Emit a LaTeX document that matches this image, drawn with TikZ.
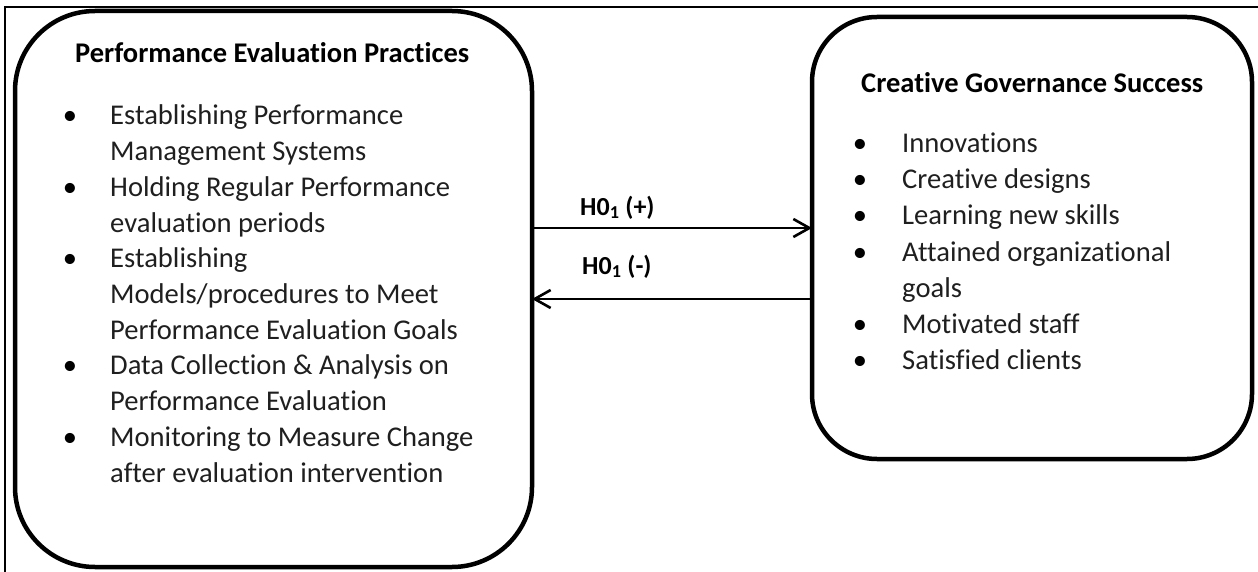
\documentclass[tikz,border=0pt]{standalone}
\usepackage{fontspec}
\setmainfont[Ligatures={NoCommon}]{Carlito}
\usetikzlibrary{arrows.meta}
\begin{document}
\begin{tikzpicture}[x=1pt,y=-1pt,
  frame/.style={line width=2.2pt, black},
  box/.style={draw=black, line width=4.5pt, inner sep=0pt, outer sep=0pt},
  title/.style={font=\fontsize{28.5}{34}\selectfont\bfseries, anchor=base west, inner sep=0pt},
  body/.style={font=\fontsize{28.6}{34}\selectfont, anchor=base west, inner sep=0pt, text=black!88},
  bul/.style={font=\fontsize{28.6}{34}\selectfont, anchor=base, inner sep=0pt},
  lab/.style={font=\fontsize{26}{32}\selectfont\bfseries, anchor=base west, inner sep=0pt},
  arr/.style={line width=2.6pt, -{Straight Barb[length=16pt, width=18pt]}}]
\useasboundingbox (0,0) rectangle (1258,572);
\draw[frame] (5,572) -- (5,7) -- (1258,7);
% boxes
\node[box, minimum width=517pt, minimum height=556pt, rounded corners=80pt] (L) at (273.5,289) {};
\node[box, minimum width=440pt, minimum height=442pt, rounded corners=65pt] (R) at (1032,238) {};
% left text
\node[title] (Lt) at (75,63) {Performance Evaluation Practices};
\node[bul] (Lb1) at (70,125) {\textbullet};
\node[body] (L1) at (110,125.0) {Establishing Performance};
\node[body] (L2) at (110,160.7) {Management Systems};
\node[bul] (Lb2) at (70,196.4) {\textbullet};
\node[body] (L3) at (110,196.4) {Holding Regular Performance};
\node[body] (L4) at (110,232.1) {evaluation periods};
\node[bul] (Lb3) at (70,267.8) {\textbullet};
\node[body] (L5) at (110,267.8) {Establishing};
\node[body] (L6) at (110,303.5) {Models/procedures to Meet};
\node[body] (L7) at (110,339.2) {Performance Evaluation Goals};
\node[bul] (Lb4) at (70,374.9) {\textbullet};
\node[body] (L8) at (110,374.9) {Data Collection \& Analysis on};
\node[body] (L9) at (110,410.6) {Performance Evaluation};
\node[bul] (Lb5) at (70,446.3) {\textbullet};
\node[body] (L10) at (110,446.3) {Monitoring to Measure Change};
\node[body] (L11) at (110,482.0) {after evaluation intervention};
% right text
\node[title] (Rt) at (861,93) {Creative Governance Success};
\node[bul] (Rb1) at (860,153) {\textbullet};
\node[body] (R1) at (902,153) {Innovations};
\node[bul] (Rb2) at (860,189) {\textbullet};
\node[body] (R2) at (902,189) {Creative designs};
\node[bul] (Rb3) at (860,225) {\textbullet};
\node[body] (R3) at (902,225) {Learning new skills};
\node[bul] (Rb4) at (860,261) {\textbullet};
\node[body] (R4) at (902,261) {Attained organizational};
\node[body] (R5) at (902,297) {goals};
\node[bul] (Rb5) at (860,333) {\textbullet};
\node[body] (R6) at (902,333) {Motivated staff};
\node[bul] (Rb6) at (860,369) {\textbullet};
\node[body] (R7) at (902,369) {Satisfied clients};
% connectors
\coordinate (a1) at (0,228);
\coordinate (a2) at (0,299);
\draw[arr] (a1 -| L.east) -- (a1 -| R.west);
\draw[arr] (a2 -| R.west) -- (a2 -| L.east);
\node[lab] (h1) at (580,215) {H0\textsubscript{1} (+)};
\node[lab] (h2) at (582,274) {H0\textsubscript{1} (-)};
\end{tikzpicture}
\end{document}
